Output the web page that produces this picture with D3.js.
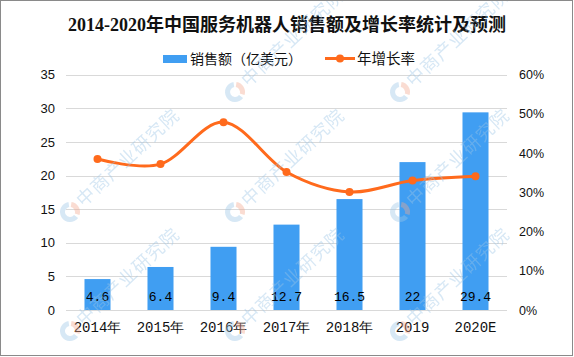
<!DOCTYPE html>
<html><head><meta charset="utf-8">
<script src="https://cdn.jsdelivr.net/npm/d3@7"></script>
<style>
html,body{margin:0;padding:0;background:#fff;}
svg{display:block;}
</style></head>
<body>
<script>
const title = "2014-2020年中国服务机器人销售额及增长率统计及预测";
const categories = ["2014年","2015年","2016年","2017年","2018年","2019","2020E"];
const sales = [4.6, 6.4, 9.4, 12.7, 16.5, 22, 29.4];
const growth = [0.385, 0.372, 0.479, 0.352, 0.301, 0.330, 0.341];
const leftTicks = [0,5,10,15,20,25,30,35];
const rightTicks = [0,0.1,0.2,0.3,0.4,0.5,0.6];
const seriesNames = ["销售额（亿美元）","年增长率"];
const watermarkText = "中商产业研究院";

const W = 574, H = 357;
const barColor = "#409EF2", lineColor = "#FF6A1C";
const svg = d3.select("body").append("svg").attr("width", W).attr("height", H);

svg.append("rect").attr("x",0).attr("y",0).attr("width",W).attr("height",H).attr("fill","#fff");

const x = d3.scaleBand().domain(categories).range([66, 507]).paddingInner(0.587).paddingOuter(0.2935);
const yL = d3.scaleLinear().domain([0, 35]).range([310, 74.7]);
const yR = d3.scaleLinear().domain([0, 0.6]).range([310, 74.7]);

// gridlines
svg.append("g").selectAll("line").data(leftTicks).join("line")
  .attr("x1", 66).attr("x2", 507)
  .attr("y1", d => Math.round(yL(d)) + 0.5).attr("y2", d => Math.round(yL(d)) + 0.5)
  .attr("stroke", "#d9d9d9").attr("stroke-width", 1);

// left axis
const gL = svg.append("g").attr("transform", "translate(66,0)")
  .call(d3.axisLeft(yL).tickValues(leftTicks).tickSize(0).tickPadding(11));
gL.select(".domain").remove();
gL.selectAll("text").attr("font-family", "Liberation Sans, Arial, sans-serif").attr("font-size", 13).attr("fill", "#111");

// right axis
const gR = svg.append("g").attr("transform", "translate(507,0)")
  .call(d3.axisRight(yR).tickValues(rightTicks).tickSize(0).tickPadding(12).tickFormat(d3.format(".0%")));
gR.select(".domain").remove();
gR.selectAll("text").attr("font-family", "Liberation Sans, Arial, sans-serif").attr("font-size", 12.5).attr("fill", "#111");

// bottom axis
const gB = svg.append("g").attr("transform", "translate(0,310)")
  .call(d3.axisBottom(x).tickSize(0).tickPadding(12));
gB.select(".domain").remove();
gB.selectAll("text").attr("font-family", "Liberation Mono, monospace").attr("font-size", 14).attr("fill", "#111");

// watermark (interior copies only)
const wmPos = [[70,212],[235,212],[400,212],[70,331],[235,331],[400,331],[235,92],[400,92]];
const wm = svg.append("g").attr("opacity", 0.4).attr("pointer-events","none");

// bars
svg.append("g").selectAll("rect").data(sales).join("rect")
  .attr("x", (d,i) => x(categories[i]))
  .attr("width", x.bandwidth())
  .attr("y", d => yL(d))
  .attr("height", d => yL(0) - yL(d))
  .attr("fill", barColor);

// bar labels
svg.append("g").selectAll("text").data(sales).join("text")
  .attr("x", (d,i) => x(categories[i]) + x.bandwidth()/2)
  .attr("y", 301)
  .attr("text-anchor", "middle")
  .attr("font-family", "Liberation Mono, monospace").attr("font-size", 13).attr("fill", "#000")
  .text(d => d);

// line
const line = d3.line()
  .x((d,i) => x(categories[i]) + x.bandwidth()/2)
  .y(d => yR(d))
  .curve(d3.curveCardinal.tension(0));
svg.append("path").datum(growth).attr("d", line)
  .attr("fill", "none").attr("stroke", lineColor).attr("stroke-width", 3).attr("stroke-linecap","round");
svg.append("g").selectAll("circle").data(growth).join("circle")
  .attr("cx", (d,i) => x(categories[i]) + x.bandwidth()/2)
  .attr("cy", d => yR(d)).attr("r", 4).attr("fill", lineColor);

// title
svg.append("text").attr("x", 287).attr("y", 31).attr("text-anchor", "middle")
  .attr("font-family", "Liberation Serif, 'Noto Sans CJK SC', serif")
  .attr("font-weight", "bold").attr("font-size", 18).attr("fill", "#111").text(title);

// legend
const lg = svg.append("g");
lg.append("rect").attr("x", 163).attr("y", 55).attr("width", 24).attr("height", 8).attr("fill", barColor);
lg.append("text").attr("x", 190).attr("y", 64).attr("font-family", "'Noto Sans CJK SC', sans-serif")
  .attr("font-size", 14).attr("fill", "#111").text(seriesNames[0]);
lg.append("line").attr("x1", 325).attr("x2", 355).attr("y1", 58.5).attr("y2", 58.5)
  .attr("stroke", lineColor).attr("stroke-width", 3);
lg.append("circle").attr("cx", 340).attr("cy", 58.5).attr("r", 4).attr("fill", lineColor);
lg.append("text").attr("x", 357).attr("y", 64).attr("font-family", "'Noto Sans CJK SC', sans-serif")
  .attr("font-size", 14.5).attr("fill", "#111").text(seriesNames[1]);

// watermark drawn on top, faint
wm.raise();
wmPos.forEach(([xx, yy]) => {
  const g = wm.append("g").attr("transform", `translate(${xx},${yy})`);
  const arc = d3.arc().innerRadius(5).outerRadius(10);
  g.append("path").attr("d", arc({startAngle: Math.PI*0.05, endAngle: Math.PI*0.6})).attr("fill", "#f2a98e");
  g.append("path").attr("d", arc({startAngle: Math.PI*0.7, endAngle: Math.PI*1.95})).attr("fill", "#9cc5e6");
  g.append("text").attr("transform", "rotate(-43) translate(13,6)")
    .attr("font-family", "'Noto Sans CJK SC', sans-serif").attr("font-size", 18)
    .attr("letter-spacing", 1).attr("fill", "#9cc5e6").text(watermarkText);
});

// border
svg.append("rect").attr("x", 0.5).attr("y", 0.5).attr("width", 572).attr("height", 355)
  .attr("fill", "none").attr("stroke", "#8a8a8a").attr("stroke-width", 1);
</script>
</body></html>
